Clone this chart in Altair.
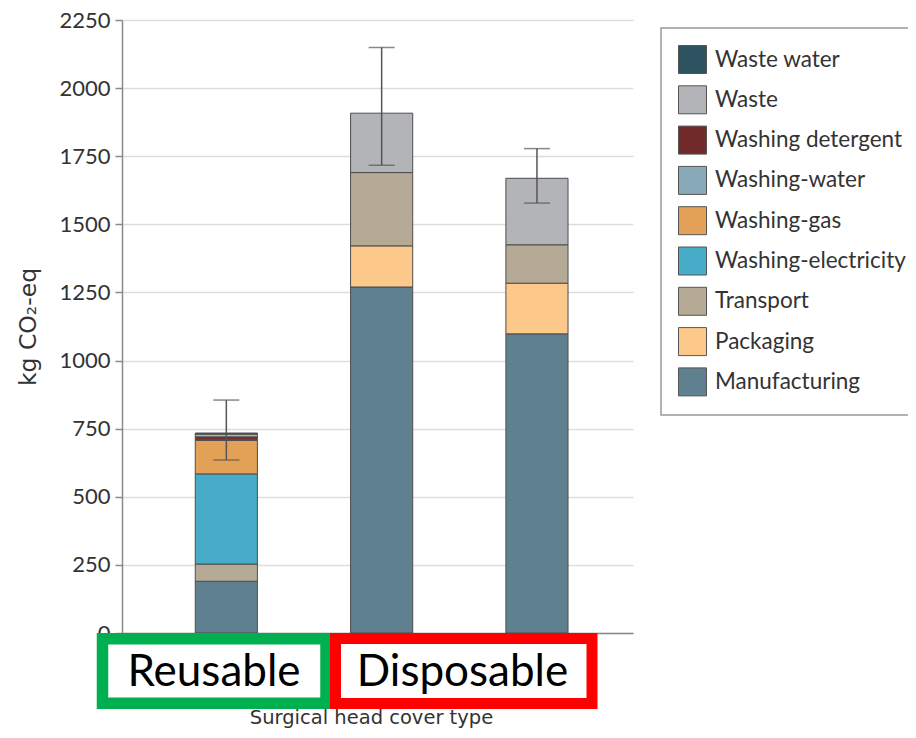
import altair as alt
import pandas as pd

# ---- data ----
categories = ["Reusable", "Disposable 1", "Disposable 2"]
components = ["Manufacturing", "Packaging", "Transport", "Washing-electricity",
              "Washing-gas", "Washing-water", "Washing detergent", "Waste", "Waste water"]
reusable = [190, 0, 63, 331, 123, 3, 10, 10, 4]
disposable_1 = [1270, 151, 269, 0, 0, 0, 0, 218, 0]
disposable_2 = [1098, 186, 141, 0, 0, 0, 0, 244, 0]
err_low = [635, 1717, 1578]
err_high = [855, 2149, 1778]
y_ticks = [0, 250, 500, 750, 1000, 1250, 1500, 1750, 2000, 2250]

legend_order = ["Waste water", "Waste", "Washing detergent", "Washing-water", "Washing-gas",
                "Washing-electricity", "Transport", "Packaging", "Manufacturing"]
legend_colors = ["#2d5361", "#b3b4b8", "#722b2b", "#87a9b8", "#e3a157",
                 "#47acc8", "#b5aa96", "#fdc98a", "#5e808f"]

series = [reusable, disposable_1, disposable_2]
rows = []
for cat, vals in zip(categories, series):
    for k, (comp, v) in enumerate(zip(components, vals)):
        if v > 0:
            rows.append({"type": cat, "component": comp, "value": v, "order": k})
df = pd.DataFrame(rows)
df_err = pd.DataFrame({"type": categories, "lo": err_low, "hi": err_high})

FONT = "Lato"
TFONT = "DejaVu Sans"

x_enc = alt.X(
    "type:N", sort=categories,
    scale=alt.Scale(paddingInner=0.6, paddingOuter=0.445, align=0.53),
    axis=alt.Axis(labels=False, ticks=False, title="Surgical head cover type"),
)
y_scale = alt.Scale(domain=[0, 2250], nice=False)

bars = alt.Chart(df).mark_bar(stroke="#4d4d4d", strokeWidth=1).encode(
    x=x_enc,
    y=alt.Y("value:Q", stack="zero", scale=y_scale,
            axis=alt.Axis(values=y_ticks, format="d", title="kg CO₂-eq")),
    color=alt.Color("component:N", scale=alt.Scale(domain=legend_order, range=legend_colors),
                    legend=alt.Legend(title=None)),
    order=alt.Order("order:Q"),
)

err_rule = alt.Chart(df_err).mark_rule(color="#555555", strokeWidth=1.5).encode(
    x=alt.X("type:N", sort=categories, title="Surgical head cover type"),
    y=alt.Y("lo:Q", scale=y_scale, title="kg CO₂-eq"), y2="hi:Q")
err_lo = alt.Chart(df_err).mark_tick(color="#555555", thickness=1.5, size=26).encode(
    x=alt.X("type:N", sort=categories, title="Surgical head cover type"),
    y=alt.Y("lo:Q", scale=y_scale, title="kg CO₂-eq"))
err_hi = alt.Chart(df_err).mark_tick(color="#555555", thickness=1.5, size=26).encode(
    x=alt.X("type:N", sort=categories, title="Surgical head cover type"),
    y=alt.Y("hi:Q", scale=y_scale, title="kg CO₂-eq"))

# annotation boxes below the axis
box_r = alt.Chart(pd.DataFrame({"label": ["Reusable"]})).mark_rect(
    fill="white", stroke="#00b050", strokeWidth=11.5).encode(
    x=alt.value(-19.5), x2=alt.value(204), y=alt.value(618.75), y2=alt.value(683.25))
box_d = alt.Chart(pd.DataFrame({"label": ["Disposable"]})).mark_rect(
    fill="white", stroke="#ff0000", strokeWidth=11).encode(
    x=alt.value(213.5), x2=alt.value(470), y=alt.value(618.5), y2=alt.value(683.5))
txt_r = alt.Chart(pd.DataFrame({"label": ["Reusable"]})).mark_text(
    font=FONT, fontSize=44, color="black", align="center", baseline="alphabetic").encode(
    x=alt.value(92), y=alt.value(666), text="label:N")
txt_d = alt.Chart(pd.DataFrame({"label": ["Disposable"]})).mark_text(
    font=FONT, fontSize=44, color="black", align="center", baseline="alphabetic").encode(
    x=alt.value(340.5), y=alt.value(666), text="label:N")

chart = alt.layer(bars, err_rule, err_lo, err_hi, box_r, box_d, txt_r, txt_d).properties(
    width=511, height=613,
    autosize=alt.AutoSizeParams(type="none"),
    padding={"left": 114, "top": 12, "right": 275, "bottom": 97},
).configure_view(stroke=None).configure_axisY(
    titleFont=TFONT, titleFontSize=23.5, titleFontWeight="normal", titleColor="#333333",
    titlePadding=18,
    labelFont=FONT, labelFontSize=22, labelColor="#333333", labelPadding=5,
    grid=True, gridColor="#dddddd", gridWidth=1.5,
    domainColor="#8a8a8a", domainWidth=1.5,
    tickColor="#8a8a8a", tickSize=7, tickWidth=1.5,
).configure_axisX(
    titleFont=TFONT, titleFontSize=19.5, titleFontWeight="normal", titleColor="#333333",
    titlePadding=75, titleX=249, domainColor="#8a8a8a", domainWidth=1.5, grid=False,
).configure_legend(
    orient="none", legendX=539, legendY=8, padding=17,
    strokeColor="#999999", strokeWidth=1.5, fillColor="white",
    symbolType="square", symbolSize=784, symbolStrokeColor="#555555", symbolStrokeWidth=1,
    labelFont=FONT, labelFontSize=22.5, labelColor="#333333", labelLimit=400,
    rowPadding=7.3, labelOffset=8,
)

chart.save("out.html", embed_options={"renderer": "svg", "actions": False})
